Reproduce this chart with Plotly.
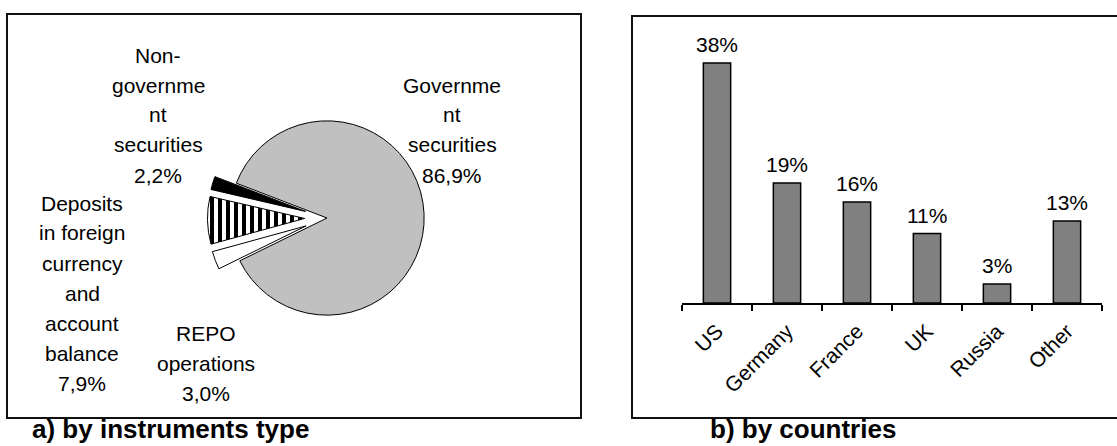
import plotly.graph_objects as go

W, H = 1117, 446

# ---------------- data ----------------
# slices listed clockwise starting from the large grey slice
pie_labels = ["Government securities", "REPO operations",
              "Deposits in foreign currency and account balance",
              "Non-government securities"]
pie_label_lines = [["Governme", "nt", "securities"],
                   ["REPO", "operations"],
                   ["Deposits", "in foreign", "currency", "and", "account", "balance"],
                   ["Non-", "governme", "nt", "securities"]]
pie_values = [86.9, 3.0, 7.9, 2.2]

countries = ["US", "Germany", "France", "UK", "Russia", "Other"]
country_shares = [38, 19, 16, 11, 3, 13]

captions = ["a) by instruments type", "b) by countries"]

# ---------------- helpers ----------------
def px_x(x):
    return x / W

def px_y(y):
    return 1 - y / H

FONT = "Arial, 'Liberation Sans', sans-serif"

fig = go.Figure()

# ---------------- pie ----------------
pie_cx, pie_cy, pie_half = 327, 218, 119.5
fig.add_trace(go.Pie(
    labels=pie_labels,
    values=pie_values,
    sort=False,
    direction="clockwise",
    rotation=-69,
    pull=[0, 0.23, 0.23, 0.23],
    textinfo="none",
    hoverinfo="label+percent",
    showlegend=False,
    marker=dict(
        colors=["#c0c0c0", "#ffffff", "#ffffff", "#000000"],
        line=dict(color="#000000", width=1),
        pattern=dict(shape=["", "", "|", ""], fgcolor="#000000",
                     size=8, solidity=0.5),
    ),
    domain=dict(x=[px_x(pie_cx - pie_half), px_x(pie_cx + pie_half)],
                y=[px_y(pie_cy + pie_half), px_y(pie_cy - pie_half)]),
))

# ---------------- bars ----------------
fig.add_trace(go.Bar(
    x=countries,
    y=country_shares,
    width=0.39,
    marker=dict(color="#808080", line=dict(color="#000000", width=1.5)),
    showlegend=False,
    hoverinfo="x+y",
    xaxis="x", yaxis="y",
))

axis_bottom_px, axis_top_px = 303, 40
px_per_unit = 240 / 38
y_max = (axis_bottom_px - axis_top_px) / px_per_unit

annotations = []
# bar value labels
for c, v in zip(countries, country_shares):
    annotations.append(dict(x=c, y=v, xref="x", yref="y", text=f"{v}%",
                            showarrow=False, yanchor="bottom", yshift=5,
                            font=dict(family=FONT, size=21, color="#000000")))

# pie labels (one annotation per line to match line spacing)
label_pos = [(452, 85), (206, 333), (82, 203), (158, 55)]
for lines, val, (lx, ly) in zip(pie_label_lines, pie_values, label_pos):
    all_lines = lines + [f"{val:.1f}".replace(".", ",") + "%"]
    for i, t in enumerate(all_lines):
        annotations.append(dict(x=px_x(lx), y=px_y(ly + 30 * i), xref="paper", yref="paper",
                                text=t, showarrow=False, xanchor="center", yanchor="middle",
                                font=dict(family=FONT, size=21, color="#000000")))

# captions
for cap, cx in zip(captions, [30, 708]):
    annotations.append(dict(x=px_x(cx), y=px_y(429), xref="paper", yref="paper",
                            text=f"<b>{cap}</b>", showarrow=False,
                            xanchor="left", yanchor="middle",
                            font=dict(family=FONT, size=26, color="#000000")))

shapes = [
    dict(type="rect", xref="paper", yref="paper",
         x0=px_x(7), x1=px_x(581), y0=px_y(418), y1=px_y(14),
         line=dict(color="#111111", width=2), fillcolor="rgba(0,0,0,0)", layer="below"),
    dict(type="rect", xref="paper", yref="paper",
         x0=px_x(632), x1=px_x(1125), y0=px_y(418), y1=px_y(16),
         line=dict(color="#111111", width=2), fillcolor="rgba(0,0,0,0)", layer="below"),
]

fig.update_layout(
    width=W, height=H,
    margin=dict(l=0, r=0, t=0, b=0),
    paper_bgcolor="#ffffff", plot_bgcolor="#ffffff",
    showlegend=False,
    font=dict(family=FONT, color="#000000"),
    xaxis=dict(domain=[px_x(682), px_x(1102)], range=[-0.5, 5.5], type="category",
               showline=True, linecolor="#000000", linewidth=1.5,
               ticks="outside", ticklen=6, tickwidth=1.5, tickcolor="#000000",
               tickson="boundaries", tickangle=-45, ticklabelstandoff=6,
               tickfont=dict(family=FONT, size=21, color="#000000"),
               showgrid=False, zeroline=False, fixedrange=True),
    yaxis=dict(domain=[px_y(axis_bottom_px), px_y(axis_top_px)], range=[0, y_max],
               visible=False, showgrid=False, zeroline=False, fixedrange=True),
    annotations=annotations,
    shapes=shapes,
)

fig.write_html("out.html")
